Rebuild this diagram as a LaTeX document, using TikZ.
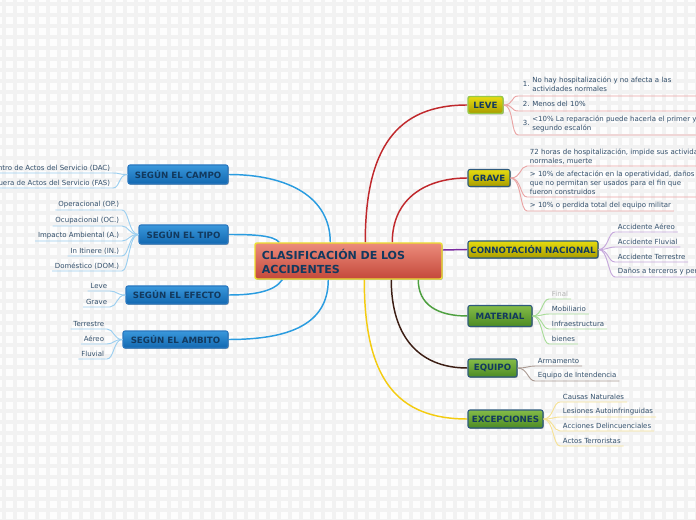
\documentclass[tikz,border=0pt]{standalone}
\usepackage{fontspec}
\setmainfont{DejaVu Sans}
\usepackage{array}
\usetikzlibrary{shadows}
\definecolor{ctrtop}{HTML}{EC8C7C}
\definecolor{ctrbot}{HTML}{C4483A}
\definecolor{ctrborder}{HTML}{ECE030}
\definecolor{bluetop}{HTML}{3A98DC}
\definecolor{bluebot}{HTML}{1268B0}
\definecolor{bluebd}{HTML}{2A78C0}
\definecolor{yeltop}{HTML}{E6DC10}
\definecolor{yelbot}{HTML}{A89C00}
\definecolor{navybd}{HTML}{2E5A7E}
\definecolor{levebd}{HTML}{98C848}
\definecolor{grntop}{HTML}{84BC48}
\definecolor{grnbot}{HTML}{4C8A24}
\definecolor{titletxt}{HTML}{12395E}
\definecolor{leaftxt}{HTML}{33506C}
\definecolor{blueln}{HTML}{2A9CE0}
\definecolor{redln}{HTML}{C0282C}
\definecolor{purpleln}{HTML}{7A2AA0}
\definecolor{greenln}{HTML}{4EA040}
\definecolor{brownln}{HTML}{3C1E14}
\definecolor{yellowln}{HTML}{F4CC10}
\definecolor{bluelk}{HTML}{9CCFF0}
\definecolor{redlk}{HTML}{EAA4A4}
\definecolor{purplelk}{HTML}{C6A8DC}
\definecolor{greenlk}{HTML}{A8DC98}
\definecolor{brownlk}{HTML}{AA9A92}
\definecolor{yellowlk}{HTML}{F6E296}
\definecolor{bgcol}{HTML}{FDFDFD}
\definecolor{gridcol}{HTML}{F2F2F2}
\definecolor{finalgray}{HTML}{B4B4B4}
\pgfdeclarelayer{gridlayer}
\pgfdeclarelayer{linklayer}
\pgfsetlayers{gridlayer,linklayer,main}
\tikzset{
  every node/.style={font=\fontsize{5.25}{6.75}\selectfont, text=leaftxt},
  shad/.style={drop shadow={shadow xshift=0.6pt, shadow yshift=-0.7pt, opacity=0.3, fill=black}},
  mainbox/.style={shad, draw=ctrborder, line width=1.1pt, rounded corners=1.5pt,
    top color=ctrtop, bottom color=ctrbot, minimum width=140.25pt, minimum height=27pt,
    text width=130pt, align=left, inner sep=0pt,
    font=\fontsize{8.3}{10.5}\selectfont\bfseries, text=titletxt},
  branchbase/.style={shad, rounded corners=1.5pt, line width=0.8pt, inner sep=0pt,
    font=\fontsize{6.5}{7}\selectfont\bfseries, text=titletxt},
  bluebox/.style={branchbase, draw=bluebd, top color=bluetop, bottom color=bluebot},
  yelbox/.style={branchbase, draw=navybd, top color=yeltop, bottom color=yelbot},
  grnbox/.style={branchbase, draw=navybd, top color=grntop, bottom color=grnbot},
  rleaf/.style={anchor=south west, inner xsep=2pt, inner ysep=1.3pt, align=left},
  lleaf/.style={anchor=south east, inner xsep=2pt, inner ysep=1.3pt, align=right},
  mainlink/.style={line width=1.1pt},
  leaflink/.style={line width=0.7pt},
}
\begin{document}
\begin{tikzpicture}[x=0.75pt, y=-0.75pt]
\useasboundingbox (0,0) rectangle (696,520);
\clip (0,0) rectangle (696,520);
\begin{pgfonlayer}{gridlayer}
\fill[bgcol] (0,0) rectangle (696,520);
\foreach \i in {4,15,...,700} \draw[gridcol, line width=2.4pt] (\i,0) -- (\i,520);
\foreach \j in {4,15,...,524} \draw[gridcol, line width=2.4pt] (0,\j) -- (696,\j);
\end{pgfonlayer}

% central and branch nodes
\node[mainbox] (C) at (348.5,261) {CLASIFICACIÓN DE LOS\\ACCIDENTES};

\node[bluebox, minimum width=75pt, minimum height=14.25pt] (campo) at (178,174.5) {SEGÚN EL CAMPO};
\node[bluebox, minimum width=66.75pt, minimum height=14.25pt] (tipo) at (183.5,234.5) {SEGÚN EL TIPO};
\node[bluebox, minimum width=76.5pt, minimum height=13.5pt] (efecto) at (177,295) {SEGÚN EL EFECTO};
\node[bluebox, minimum width=78.75pt, minimum height=12.75pt] (ambito) at (175.5,339.5) {SEGÚN EL AMBITO};

\node[yelbox, draw=levebd, line width=1.1pt, minimum width=26.25pt, minimum height=12.75pt] (leve) at (485.5,105) {LEVE};
\node[yelbox, minimum width=31.5pt, minimum height=12.75pt] (grave) at (489,178) {GRAVE};
\node[yelbox, minimum width=97.5pt, minimum height=12.75pt] (connot) at (533,249.5) {CONNOTACIÓN NACIONAL};
\node[grnbox, minimum width=48pt, minimum height=15.75pt] (material) at (500,316) {MATERIAL};
\node[grnbox, minimum width=36.75pt, minimum height=13.5pt] (equipo) at (492.5,368) {EQUIPO};
\node[grnbox, minimum width=56.25pt, minimum height=13.5pt] (excep) at (505.5,419) {EXCEPCIONES};

% main connectors (behind the boxes)
\begin{pgfonlayer}{linklayer}
\draw[mainlink, blueln] (C.north west) ++(76,0) .. controls +(0,-45) and +(60,0) .. (campo.east);
\draw[mainlink, blueln] (C.north west) ++(25,0) .. controls +(-6,-7) and +(25,0) .. (tipo.east);
\draw[mainlink, blueln] (C.south west) ++(28,0) .. controls +(-8,12) and +(25,0) .. (efecto.east);
\draw[mainlink, blueln] (C.south west) ++(74,0) .. controls +(0,45) and +(60,0) .. (ambito.east);
\draw[mainlink, redln] (C.north west) ++(111,0) .. controls +(0,-95) and +(-70,0) .. (leve.west);
\draw[mainlink, redln] (C.north west) ++(138,0) .. controls +(0,-45) and +(-40,0) .. (grave.west);
\draw[mainlink, purpleln] (C.east) ++(0,-11) .. controls +(12,0) and +(-12,0) .. (connot.west);
\draw[mainlink, greenln] (C.south west) ++(164,0) .. controls +(0,25) and +(-30,0) .. (material.west);
\draw[mainlink, brownln] (C.south west) ++(137,0) .. controls +(0,55) and +(-50,0) .. (equipo.west);
\draw[mainlink, yellowln] (C.south west) ++(110,0) .. controls +(0,100) and +(-70,0) .. (excep.west);
\end{pgfonlayer}

% ---- left leaves ----
\node[lleaf] (dac) at (113,173) {Dentro de Actos del Servicio (DAC)};
\node[lleaf] (fas) at (113,188) {Fuera de Actos del Servicio (FAS)};
\foreach \n in {dac,fas}
  \draw[leaflink, bluelk] (campo.west) .. controls +(-9,0) and +(7,0) .. (\n.south east) -- (\n.south west);

\node[lleaf] (op) at (122,210) {Operacional (OP.)};
\node[lleaf] (oc) at (122,226) {Ocupacional (OC.)};
\node[lleaf] (amb) at (122,241) {Impacto Ambiental (A.)};
\node[lleaf] (iti) at (122,256) {In Itinere (IN.)};
\node[lleaf] (dom) at (122,271) {Doméstico (DOM.)};
\foreach \n in {op,oc,amb,iti,dom}
  \draw[leaflink, bluelk] (tipo.west) .. controls +(-10,0) and +(7,0) .. (\n.south east) -- (\n.south west);

\node[lleaf] (lv) at (110,291) {Leve};
\node[lleaf] (gr) at (110,307) {Grave};
\foreach \n in {lv,gr}
  \draw[leaflink, bluelk] (efecto.west) .. controls +(-9,0) and +(7,0) .. (\n.south east) -- (\n.south west);

\node[lleaf] (ter) at (107,329) {Terrestre};
\node[lleaf] (aer) at (107,344) {Aéreo};
\node[lleaf] (flu) at (107,359) {Fluvial};
\foreach \n in {ter,aer,flu}
  \draw[leaflink, bluelk] (ambito.west) .. controls +(-9,0) and +(7,0) .. (\n.south east) -- (\n.south west);

% ---- right leaves ----
\node[rleaf] (l1) at (518,96) {\begin{tabular}{@{\hspace{1.5pt}}m{7pt}@{}m{140pt}@{}}1. & No hay hospitalización y no afecta a las\newline actividades normales\end{tabular}};
\node[rleaf] (l2) at (518,111) {\begin{tabular}{@{\hspace{1.5pt}}m{7pt}@{}m{140pt}@{}}2. & Menos del 10\%\end{tabular}};
\node[rleaf] (l3) at (518,135) {\begin{tabular}{@{\hspace{1.5pt}}m{7pt}@{}m{140pt}@{}}3. & <10\% La reparación puede hacerla el primer y\newline segundo escalón\end{tabular}};
\foreach \n in {l1,l2,l3}
  \draw[leaflink, redlk] (leve.east) .. controls +(10,0) and +(-7,0) .. (\n.south west) -- (\n.south east);

\node[rleaf] (g1) at (527,166) {72 horas de hospitalización, impide sus actividades\\normales, muerte};
\node[rleaf] (g2) at (527,197) {> 10\% de afectación en la operatividad, daños\\que no permitan ser usados para el fin que\\fueron construidos};
\node[rleaf] (g3) at (527,211) {> 10\% o perdida total del equipo militar};
\foreach \n in {g1,g2,g3}
  \draw[leaflink, redlk] (grave.east) .. controls +(11,0) and +(-7,0) .. (\n.south west) -- (\n.south east);

\node[rleaf] (c1) at (615,232) {Accidente Aéreo};
\node[rleaf] (c2) at (615,247) {Accidente Fluvial};
\node[rleaf] (c3) at (615,262) {Accidente Terrestre};
\node[rleaf] (c4) at (615,277) {Daños a terceros y personas};
\foreach \n in {c1,c2,c3,c4}
  \draw[leaflink, purplelk] (connot.east) .. controls +(10,0) and +(-7,0) .. (\n.south west) -- (\n.south east);

\node[rleaf, text=finalgray] (m1) at (549,299) {Final};
\node[rleaf] (m2) at (549,314) {Mobiliario};
\node[rleaf] (m3) at (549,329) {Infraestructura};
\node[rleaf] (m4) at (549,344) {bienes};
\foreach \n in {m1,m2,m3,m4}
  \draw[leaflink, greenlk] (material.east) .. controls +(10,0) and +(-7,0) .. (\n.south west) -- (\n.south east);

\node[rleaf] (e1) at (535,366) {Armamento};
\node[rleaf] (e2) at (535,381) {Equipo de Intendencia};
\foreach \n in {e1,e2}
  \draw[leaflink, brownlk] (equipo.east) .. controls +(10,0) and +(-7,0) .. (\n.south west) -- (\n.south east);

\node[rleaf] (x1) at (560,402) {Causas Naturales};
\node[rleaf] (x2) at (560,417) {Lesiones Autoinfringuidas};
\node[rleaf] (x3) at (560,431) {Acciones Delincuenciales};
\node[rleaf] (x4) at (560,446) {Actos Terroristas};
\foreach \n in {x1,x2,x3,x4}
  \draw[leaflink, yellowlk] (excep.east) .. controls +(10,0) and +(-7,0) .. (\n.south west) -- (\n.south east);
\end{tikzpicture}
\end{document}
